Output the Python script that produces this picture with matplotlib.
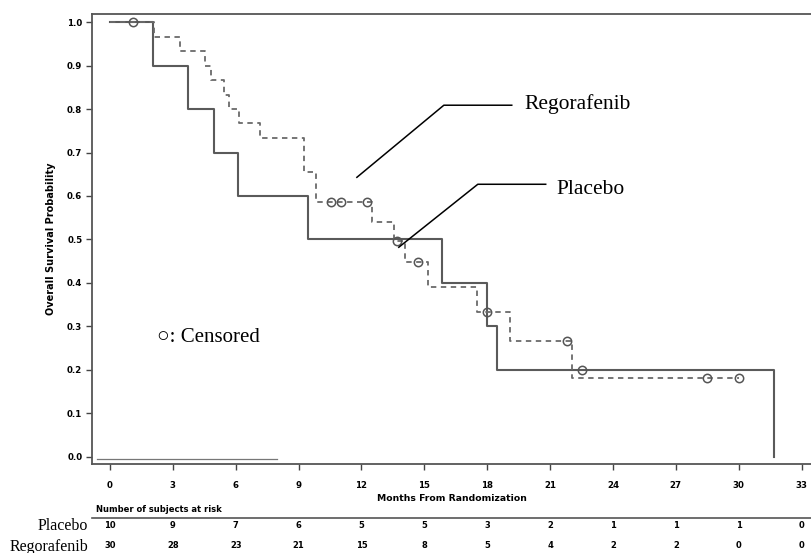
import matplotlib
matplotlib.use("Agg")
import matplotlib.pyplot as plt
from matplotlib.transforms import blended_transform_factory

# --- data ---
placebo_t = [0, 2.06, 3.7, 4.97, 6.1, 9.47, 15.85, 17.98, 18.45, 31.7]
placebo_s = [1.0, 0.9, 0.8, 0.7, 0.6, 0.5, 0.4, 0.3, 0.2, 0.0]
placebo_cens_t = [22.5]
placebo_cens_s = [0.2]

rego_t = [0, 2.1, 3.35, 4.55, 4.83, 5.45, 5.7, 6.17, 7.18, 9.28, 9.85,
          12.5, 13.55, 14.07, 15.17, 17.5, 19.1, 22.05, 30.0]
rego_s = [1.0, 0.967, 0.933, 0.9, 0.867, 0.833, 0.8, 0.767, 0.733, 0.655, 0.586,
          0.541, 0.497, 0.447, 0.39, 0.334, 0.267, 0.18, 0.18]
rego_cens_t = [1.1, 10.54, 11.0, 12.26, 13.7, 14.7, 17.98, 21.8, 28.5, 30.0]
rego_cens_s = [1.0, 0.586, 0.586, 0.586, 0.497, 0.447, 0.334, 0.267, 0.18, 0.18]

risk_times = [0, 3, 6, 9, 12, 15, 18, 21, 24, 27, 30, 33]
risk_placebo = [10, 9, 7, 6, 5, 5, 3, 2, 1, 1, 1, 0]
risk_rego = [30, 28, 23, 21, 15, 8, 5, 4, 2, 2, 0, 0]

W, H = 811, 553
fig = plt.figure(figsize=(W / 100, H / 100), dpi=100)
ax = fig.add_axes([92 / W, (H - 464) / H, (W - 92) / W, (464 - 14) / H])

sans = "DejaVu Sans"
serif = "Liberation Serif"
grey = "#5a5a5a"

ax.step(placebo_t, placebo_s, where="post", color=grey, lw=1.5)
ax.step(rego_t, rego_s, where="post", color="#6a6a6a", lw=1.3, ls=(0, (3, 2.5)))
ax.plot(rego_cens_t, rego_cens_s, "o", mfc="none", mec="#555555", ms=6, mew=1.1)
ax.plot(placebo_cens_t, placebo_cens_s, "o", mfc="none", mec="#555555", ms=6, mew=1.1)

# stray baseline seen in the source image
ax.plot([-0.62, 7.96], [-0.005, -0.005], color="#777777", lw=0.9)

ax.set_xlim(-0.86, 33.45)
ax.set_ylim(-0.017, 1.019)
ax.set_xticks(risk_times)
ax.set_yticks([i / 10 for i in range(11)])
ax.set_yticklabels([f"{i / 10:.1f}" for i in range(11)])
for lab in ax.get_xticklabels() + ax.get_yticklabels():
    lab.set_fontfamily(sans)
    lab.set_fontweight("bold")
    lab.set_fontsize(6.2)
ax.tick_params(direction="out", length=4, width=1, color="#444444", pad=8)
ax.tick_params(axis="y", pad=3)
for sp in ["left", "bottom", "top"]:
    ax.spines[sp].set_color("#555555")
    ax.spines[sp].set_linewidth(1.3)
ax.spines["right"].set_visible(False)

ax.set_ylabel("Overall Survival Probability", fontsize=7, fontweight="bold",
              family=sans, labelpad=8)
ax.set_xlabel("Months From Randomization", fontsize=6.7, fontweight="bold",
              family=sans, labelpad=3)

# annotations
ax.plot([11.78, 15.93, 19.17], [0.643, 0.809, 0.809], color="black", lw=1.1)
ax.text(19.79, 0.811, "Regorafenib", family=serif, fontsize=15.5, va="center", ha="left")
ax.plot([13.78, 17.55, 20.79], [0.482, 0.627, 0.627], color="black", lw=1.1)
ax.text(21.32, 0.615, "Placebo", family=serif, fontsize=15.5, va="center", ha="left")
ax.text(2.24, 0.274, "○: Censored", family=[serif, "DejaVu Sans"], fontsize=15,
        va="center", ha="left")

# number at risk table
tr = blended_transform_factory(ax.transData, fig.transFigure)
fig.text(96 / W, 1 - 509 / H, "Number of subjects at risk", fontsize=6,
         fontweight="bold", family=sans, va="center", ha="left")
fig.add_artist(plt.Line2D([92 / W, 1.0], [1 - 518 / H, 1 - 518 / H],
                          color="#555555", lw=1.2, transform=fig.transFigure))
for t, p, r in zip(risk_times, risk_placebo, risk_rego):
    ax.text(t, 1 - 526 / H, str(p), transform=tr, fontsize=6, fontweight="bold",
            family=sans, ha="center", va="center", clip_on=False)
    ax.text(t, 1 - 546 / H, str(r), transform=tr, fontsize=6, fontweight="bold",
            family=sans, ha="center", va="center", clip_on=False)
fig.text(88 / W, 1 - 526 / H, "Placebo", family=serif, fontsize=11.5,
         ha="right", va="center")
fig.text(88 / W, 1 - 547 / H, "Regorafenib", family=serif, fontsize=11.5,
         ha="right", va="center")

fig.savefig("out.png", dpi=100)
